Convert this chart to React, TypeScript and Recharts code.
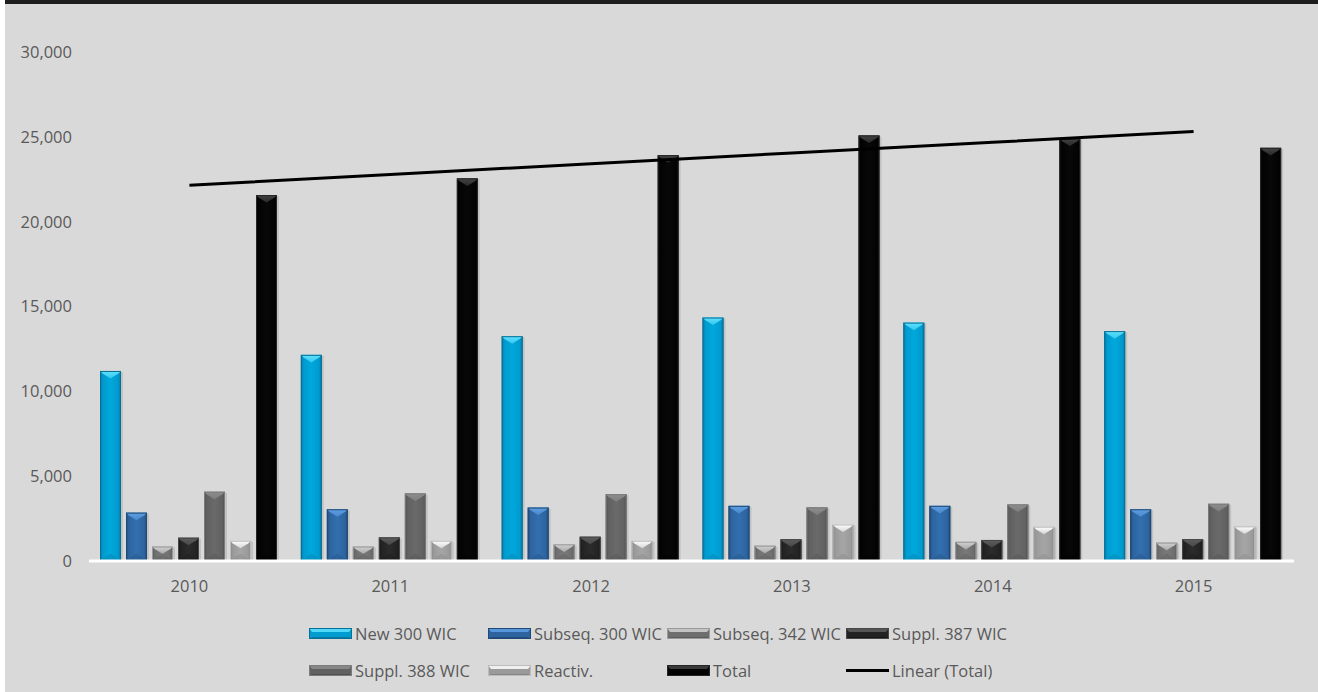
import { Bar, ComposedChart, Legend, Line, XAxis, YAxis } from 'recharts';

const YEARS = ['2010', '2011', '2012', '2013', '2014', '2015'];

const NEW_300 = [11200, 12150, 13250, 14350, 14050, 13550];
const SUBSEQ_300 = [2850, 3050, 3150, 3250, 3250, 3050];
const SUBSEQ_342 = [850, 850, 980, 900, 1130, 1080];
const SUPPL_387 = [1370, 1390, 1430, 1280, 1240, 1290];
const SUPPL_388 = [4080, 3980, 3940, 3160, 3330, 3370];
const REACTIV = [1190, 1190, 1190, 2150, 2020, 2040];
const TOTAL = [21570, 22550, 23920, 25080, 24900, 24350];
// Linear (Total) trendline, value at each year
const TREND = [22150, 22780, 23420, 24050, 24680, 25310];

const Y_TICKS = [0, 5000, 10000, 15000, 20000, 25000, 30000];

const TEXT = '#595959';
const FONT = '"Open Sans", sans-serif';

interface Tone {
  id: string;
  main: string;
  mid: string;
  light: string;
  dark: string;
  edge: string;
}

const TONES: Record<string, Tone> = {
  new300: { id: 'new300', main: '#009bcf', mid: '#00a8dc', light: '#5fe2ff', dark: '#0878a3', edge: '#0a6f94' },
  subseq300: { id: 'subseq300', main: '#2d64a0', mid: '#336fae', light: '#5e9fe4', dark: '#214c7a', edge: '#204a75' },
  subseq342: { id: 'subseq342', main: '#6e6e6e', mid: '#7a7a7a', light: '#d2d2d2', dark: '#5a5a5a', edge: '#9a9a9a' },
  suppl387: { id: 'suppl387', main: '#232323', mid: '#2c2c2c', light: '#5e5e5e', dark: '#161616', edge: '#474747' },
  suppl388: { id: 'suppl388', main: '#616161', mid: '#6a6a6a', light: '#8e8e8e', dark: '#4f4f4f', edge: '#7c7c7c' },
  reactiv: { id: 'reactiv', main: '#9a9a9a', mid: '#a6a6a6', light: '#ffffff', dark: '#858585', edge: '#bcbcbc' },
  total: { id: 'total', main: '#030303', mid: '#080808', light: '#444444', dark: '#000000', edge: '#262626' },
};

const SERIES = [
  { key: 'new300', label: 'New 300 WIC', values: NEW_300 },
  { key: 'subseq300', label: 'Subseq. 300 WIC', values: SUBSEQ_300 },
  { key: 'subseq342', label: 'Subseq. 342 WIC', values: SUBSEQ_342 },
  { key: 'suppl387', label: 'Suppl. 387 WIC', values: SUPPL_387 },
  { key: 'suppl388', label: 'Suppl. 388 WIC', values: SUPPL_388 },
  { key: 'reactiv', label: 'Reactiv.', values: REACTIV },
  { key: 'total', label: 'Total', values: TOTAL },
];

const data = YEARS.map((year, i) => {
  const row: Record<string, string | number> = { year, trend: TREND[i] };
  SERIES.forEach((s) => {
    row[s.key] = s.values[i];
  });
  return row;
});

// beveled column like the office "button" preset
function bevelShape(tone: Tone) {
  return (props: any) => {
    const { x, y, width: w, height: h } = props;
    if (!h || h <= 0) return <g />;
    const d = Math.min(w * 0.36, h / 2);
    const s = Math.min(2.5, w / 6);
    return (
      <g>
        <rect x={x + 2} y={y + 1} width={w} height={h - 1} fill="rgba(0,0,0,0.10)" />
        <rect x={x} y={y} width={w} height={h} fill={`url(#grad-${tone.id})`} />
        <polygon
          points={`${x},${y} ${x + w},${y} ${x + w - s},${y + s} ${x + w / 2},${y + d} ${x + s},${y + s}`}
          fill={`url(#top-${tone.id})`}
        />
        <polygon
          points={`${x},${y + h} ${x + w},${y + h} ${x + w / 2},${y + h - d}`}
          fill={tone.dark}
          opacity={0.35}
        />
        <rect x={x + 0.5} y={y + 0.5} width={w - 1} height={h - 1} fill="none" stroke={tone.edge} strokeWidth={1} />
      </g>
    );
  };
}

function LegendIcon({ tone }: { tone: Tone }) {
  return (
    <svg width={43} height={11} style={{ display: 'block' }}>
      <rect x={0} y={0} width={43} height={11} fill={tone.main} />
      <polygon points="0,0 43,0 40,4 3,4" fill={tone.light} opacity={0.85} />
      <polygon points="0,11 43,11 40,9 3,9" fill={tone.dark} />
      <rect x={0.5} y={0.5} width={42} height={10} fill="none" stroke={tone.edge} />
    </svg>
  );
}

function ChartLegend() {
  const items = [
    ...SERIES.map((s) => ({ label: s.label, tone: TONES[s.key] as Tone | null })),
    { label: 'Linear (Total)', tone: null },
  ];
  return (
    <div style={{ position: 'relative', width: 1313, height: 80, fontFamily: FONT, fontSize: 16.5, color: TEXT }}>
      {items.map((item, i) => {
        const col = i % 4;
        const row = Math.floor(i / 4);
        return (
          <div
            key={item.label}
            style={{
              position: 'absolute',
              left: 304 + col * 179,
              top: row === 0 ? 9 : 46,
              height: 24,
              display: 'flex',
              alignItems: 'center',
              whiteSpace: 'nowrap',
            }}
          >
            {item.tone ? (
              <LegendIcon tone={item.tone} />
            ) : (
              <div style={{ width: 43, height: 3, background: '#000' }} />
            )}
            <span style={{ marginLeft: 3 }}>{item.label}</span>
          </div>
        );
      })}
    </div>
  );
}

export default function App() {
  return (
    <div style={{ position: 'absolute', left: 0, top: 0, width: 1318, height: 692, background: '#ffffff' }}>
      <div
        style={{
          position: 'absolute',
          left: 5,
          top: 0,
          width: 1313,
          height: 692,
          boxSizing: 'border-box',
          background: '#d9d9d9',
          borderTop: '4px solid #1e1e1e',
        }}
      >
        <ComposedChart
          width={1313}
          height={688}
          data={data}
          margin={{ top: 48, right: 24, bottom: 0, left: 24 }}
          barCategoryGap={11}
          barGap={5}
          style={{ fontFamily: FONT }}
        >
          <defs>
            {Object.values(TONES).map((t) => (
              <linearGradient key={`g-${t.id}`} id={`grad-${t.id}`} x1="0" y1="0" x2="1" y2="0">
                <stop offset="0%" stopColor={t.dark} />
                <stop offset="14%" stopColor={t.main} />
                <stop offset="50%" stopColor={t.mid} />
                <stop offset="86%" stopColor={t.main} />
                <stop offset="100%" stopColor={t.dark} />
              </linearGradient>
            ))}
            {Object.values(TONES).map((t) => (
              <linearGradient key={`t-${t.id}`} id={`top-${t.id}`} x1="0" y1="0" x2="0" y2="1">
                <stop offset="0%" stopColor={t.light} />
                <stop offset="100%" stopColor={t.light} stopOpacity={0.55} />
              </linearGradient>
            ))}
          </defs>
          <XAxis
            dataKey="year"
            height={51}
            tickLine={false}
            tickSize={0}
            tickMargin={19}
            axisLine={{ stroke: '#ffffff', strokeWidth: 3 }}
            tick={{ fill: TEXT, fontSize: 16.5 }}
          />
          <YAxis
            width={60}
            domain={[0, 30000]}
            ticks={Y_TICKS}
            axisLine={false}
            tickLine={false}
            tickSize={0}
            tickMargin={17}
            tick={{ fill: TEXT, fontSize: 16.5 }}
            tickFormatter={(v: number) => v.toLocaleString('en-US')}
          />
          {SERIES.map((s) => (
            <Bar
              key={s.key}
              dataKey={s.key}
              name={s.label}
              fill={TONES[s.key].main}
              shape={bevelShape(TONES[s.key])}
              isAnimationActive={false}
            />
          ))}
          <Line
            type="linear"
            dataKey="trend"
            name="Linear (Total)"
            stroke="#000000"
            strokeWidth={3}
            dot={false}
            activeDot={false}
            isAnimationActive={false}
          />
          <Legend verticalAlign="bottom" wrapperStyle={{ left: 0, width: 1313, height: 80 }} content={() => <ChartLegend />} />
        </ComposedChart>
      </div>
    </div>
  );
}
